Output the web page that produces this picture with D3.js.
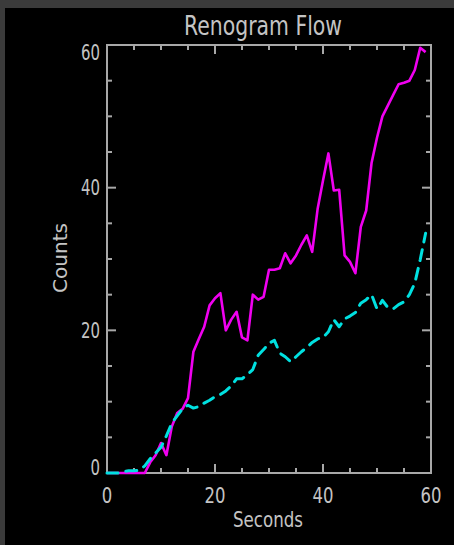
<!DOCTYPE html>
<html>
<head>
<meta charset="UTF-8">
<title>Renogram Flow</title>
<script src="https://cdn.jsdelivr.net/npm/d3@7"></script>
<style>
  html, body { margin: 0; background: #000; }
  body { width: 454px; height: 545px; overflow: hidden; }
  text { font-family: "DejaVu Sans", sans-serif; fill: #c4c4c4; }
</style>
</head>
<body>
<svg id="chart" width="454" height="545"></svg>
<script>
    // time samples (s)
    const seconds = [0,1,2,3,4,5,6,7,8,9,10,11,12,13,14,15,16,17,18,19,
                     20,21,22,23,24,25,26,27,28,29,30,31,32,33,34,35,36,37,38,39,
                     40,41,42,43,44,45,46,47,48,49,50,51,52,53,54,55,56,57,58,59];
    // solid magenta curve
    const flowA = [0,0,0,0,0,0,0,0,1.5,2.5,4.2,2.5,6.5,8.4,9,10.5,17,18.8,20.5,23.5,
                   24.5,25.2,20,21.5,22.6,19,18.6,25,24.3,24.7,28.5,28.5,28.7,30.8,29.4,30.5,32,33.3,31,37,
                   41,44.8,39.6,39.7,30.5,29.6,28,34.5,36.8,43.5,47,50,51.5,53,54.5,54.7,55,56.5,59.6,59];
    // dashed cyan curve
    const flowB = [0,0,0,0.2,0.3,0.3,0.4,1,2,2.8,3.6,5.2,7,8,9,9.5,9.1,9.3,9.8,10.2,
                   10.7,11,11.5,12.2,13.2,13.2,13.8,14.5,16.5,17.3,18.2,18.6,16.8,16.3,15.6,16.3,17,17.6,18.3,18.8,
                   19,19.8,21.5,20.5,21.6,22,22.5,23.8,24.3,25,23,24.2,23.2,23,23.6,24,25,26.6,29.9,33.6];
    const xTicks = [0, 20, 40, 60];
    const yTicks = [0, 20, 40, 60];

    const svg = d3.select("#chart");
    const mLeft = 107, mTop = 45, w = 324, h = 428;

    // grey frame of the screenshot
    svg.append("rect").attr("x", 0).attr("y", 0).attr("width", 454).attr("height", 545).attr("fill", "#000");
    svg.append("rect").attr("x", 0).attr("y", 0).attr("width", 454).attr("height", 8).attr("fill", "#3b3b3b");
    svg.append("rect").attr("x", 0).attr("y", 0).attr("width", 5).attr("height", 545).attr("fill", "#3b3b3b");

    const x = d3.scaleLinear().domain([0, 60]).range([mLeft, mLeft + w]);
    const y = d3.scaleLinear().domain([0, 60]).range([mTop + h, mTop]);

    const axisCol = "#a8a8a8";
    const g = svg.append("g");

    // ticks on all four sides, pointing inward
    const minor = d3.range(0, 61, 5);
    minor.forEach(v => {
        const len = v % 20 === 0 ? 9 : 5;
        g.append("line").attr("x1", x(v)).attr("x2", x(v)).attr("y1", y(0)).attr("y2", y(0) - len)
            .attr("stroke", axisCol).attr("stroke-width", 2);
        g.append("line").attr("x1", x(v)).attr("x2", x(v)).attr("y1", y(60)).attr("y2", y(60) + len)
            .attr("stroke", axisCol).attr("stroke-width", 2);
        g.append("line").attr("y1", y(v)).attr("y2", y(v)).attr("x1", x(0)).attr("x2", x(0) + len)
            .attr("stroke", axisCol).attr("stroke-width", 2);
        g.append("line").attr("y1", y(v)).attr("y2", y(v)).attr("x1", x(60)).attr("x2", x(60) - len)
            .attr("stroke", axisCol).attr("stroke-width", 2);
    });
    g.append("rect").attr("x", x(0)).attr("y", y(60)).attr("width", w).attr("height", h)
        .attr("fill", "none").attr("stroke", axisCol).attr("stroke-width", 2);

    // tick labels (narrow Hershey-like look via textLength)
    xTicks.forEach(v => {
        const s = String(v);
        svg.append("text").attr("x", x(v)).attr("y", 503).attr("text-anchor", "middle")
            .attr("font-size", 21).attr("textLength", s.length * 10.5).attr("lengthAdjust", "spacingAndGlyphs")
            .text(s);
    });
    yTicks.forEach(v => {
        const s = String(v);
        const c = Math.max(mTop + 7.5, Math.min(mTop + h - 6, y(v)));
        svg.append("text").attr("x", 100).attr("y", c + 7.5).attr("text-anchor", "end")
            .attr("font-size", 21).attr("textLength", s.length * 9.5).attr("lengthAdjust", "spacingAndGlyphs")
            .text(s);
    });

    svg.append("text").attr("x", 263).attr("y", 35).attr("text-anchor", "middle")
        .attr("font-size", 27).attr("textLength", 158).attr("lengthAdjust", "spacingAndGlyphs")
        .text("Renogram Flow");
    svg.append("text").attr("x", 268).attr("y", 527).attr("text-anchor", "middle")
        .attr("font-size", 22).attr("textLength", 70).attr("lengthAdjust", "spacingAndGlyphs")
        .text("Seconds");
    svg.append("text").attr("transform", "translate(67,258) rotate(-90)").attr("text-anchor", "middle")
        .attr("font-size", 20).attr("textLength", 70).attr("lengthAdjust", "spacingAndGlyphs")
        .text("Counts");

    const lineA = d3.line().x((d, i) => x(seconds[i])).y(d => y(d));

    svg.append("path").datum(flowA).attr("d", lineA)
        .attr("fill", "none").attr("stroke", "#f000f0").attr("stroke-width", 2.6)
        .attr("stroke-linejoin", "round");
    svg.append("path").datum(flowB).attr("d", lineA)
        .attr("fill", "none").attr("stroke", "#00e0e0").attr("stroke-width", 3)
        .attr("stroke-dasharray", "11,8").attr("stroke-linecap", "round").attr("stroke-linejoin", "round");
</script>
</body>
</html>
